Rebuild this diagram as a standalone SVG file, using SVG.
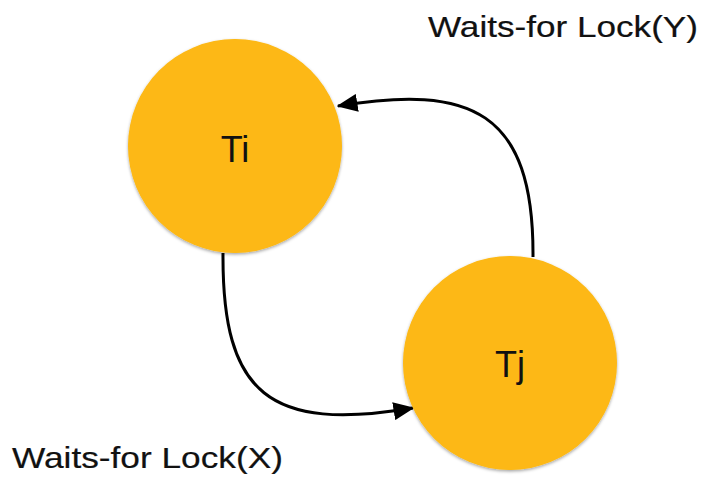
<svg xmlns="http://www.w3.org/2000/svg" width="702" height="477" viewBox="0 0 702 477">
  <style>
    .node { fill: #FDB813; filter: url(#shadow); }
    .ntext { font-family: "Liberation Sans", Arial, sans-serif; font-size: 36px; fill: #111; text-anchor: middle; }
    .label { font-family: "Liberation Sans", Arial, sans-serif; font-size: 30px; fill: #111; stroke: #111; stroke-width: 0.2; }
    .edge { fill: none; stroke: #000; stroke-width: 3; marker-end: url(#arrow); }
  </style>
  <defs>
    <filter id="shadow" x="-10%" y="-10%" width="120%" height="125%">
      <feDropShadow dx="0" dy="1.5" stdDeviation="1.5" flood-color="#000" flood-opacity="0.35"/>
    </filter>
    <marker id="arrow" markerWidth="7" markerHeight="6" refX="6.5" refY="3" orient="auto" markerUnits="strokeWidth">
      <path d="M0,0 L7,3 L0,6 Z" fill="#000"/>
    </marker>
  </defs>
  <rect width="702" height="477" fill="#fff"/>
  <g id="connectors">
    <path class="edge" d="M533 257 C534 110, 470 84, 338 106"/>
    <path class="edge" d="M223 253 C222 395, 270 432, 413 408"/>
  </g>
  <g id="node-ti">
    <circle class="node" cx="235" cy="146" r="107"/>
    <text class="ntext" x="235" y="162">Ti</text>
  </g>
  <g id="node-tj">
    <circle class="node" cx="510" cy="363" r="107"/>
    <text class="ntext" x="510" y="377">Tj</text>
  </g>
  <g id="labels">
    <text class="label" x="428" y="37" textLength="270" lengthAdjust="spacingAndGlyphs">Waits-for Lock(Y)</text>
    <text class="label" x="12" y="468" textLength="271" lengthAdjust="spacingAndGlyphs">Waits-for Lock(X)</text>
  </g>
</svg>
